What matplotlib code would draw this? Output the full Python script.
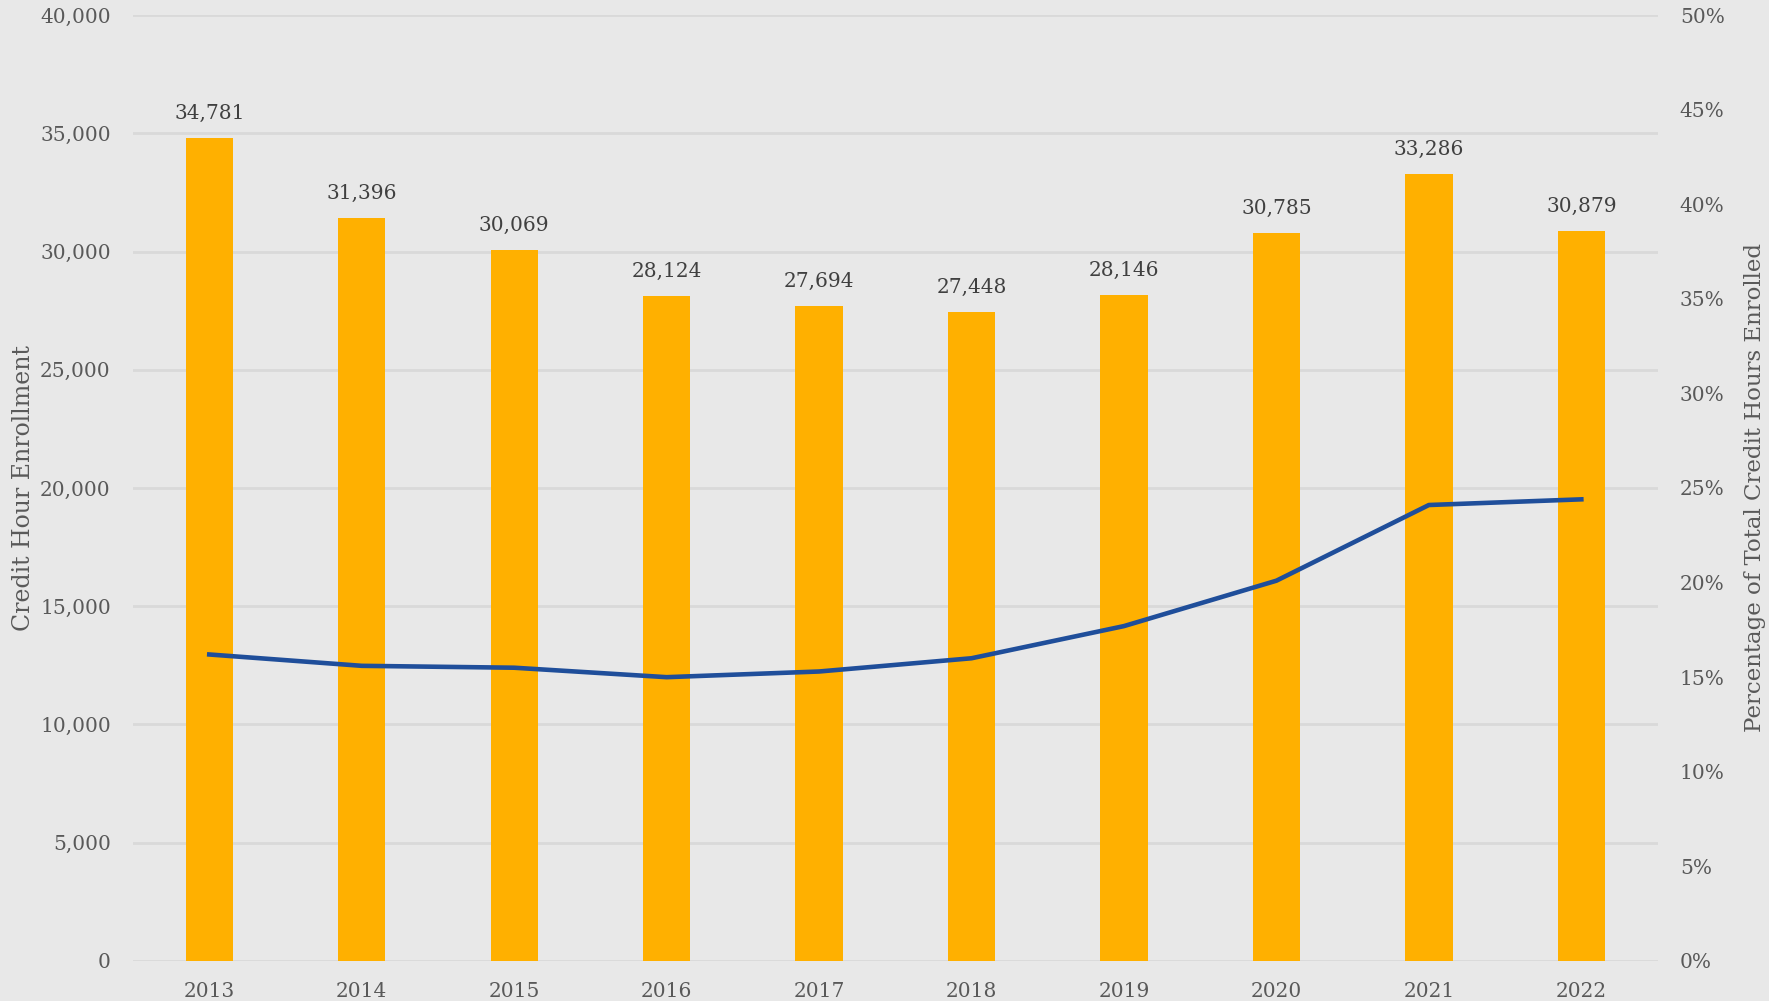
import matplotlib.pyplot as plt
from matplotlib.ticker import FuncFormatter

# data
years = ['2013', '2014', '2015', '2016', '2017', '2018', '2019', '2020', '2021', '2022']
credit_hours = [34781, 31396, 30069, 28124, 27694, 27448, 28146, 30785, 33286, 30879]
pct_of_total = [16.2, 15.6, 15.5, 15.0, 15.3, 16.0, 17.7, 20.1, 24.1, 24.4]

txt = '#595959'
plt.rcParams['font.family'] = ['DejaVu Serif']

fig = plt.figure(figsize=(17.69, 10.01), dpi=100)
fig.patch.set_facecolor('#e8e8e8')
ax = fig.add_axes([0.0752, 0.040, 0.8618, 0.945])
ax.set_facecolor('#e8e8e8')

x = range(len(years))
bars = ax.bar(x, credit_hours, width=0.31, color='#ffb000', zorder=2)
for xi, v in zip(x, credit_hours):
    ax.annotate(f'{v:,}', (xi, v), xytext=(0, 11), textcoords='offset points',
                ha='center', va='bottom', fontsize=14.5, color='#404040')

ax.set_xlim(-0.5, 9.5)
ax.set_ylim(0, 40000)
ax.set_yticks(range(0, 40001, 5000))
ax.yaxis.set_major_formatter(FuncFormatter(lambda v, p: f'{int(v):,}'))
ax.set_xticks(list(x))
ax.set_xticklabels(years)
ax.grid(axis='y', color='#d9d9d9', linewidth=2, zorder=0)
ax.tick_params(axis='y', length=0, pad=16, labelsize=14.5, labelcolor=txt)
ax.tick_params(axis='x', length=0, pad=15, labelsize=14.5, labelcolor=txt)
for s in ax.spines.values():
    s.set_visible(False)
ax.set_ylabel('Credit Hour Enrollment', fontsize=17, color=txt, labelpad=4)

ax2 = ax.twinx()
ax2.plot(list(x), pct_of_total, color='#1f4e9a', linewidth=3.3, zorder=3)
ax2.set_ylim(0, 50)
ax2.set_yticks(range(0, 51, 5))
ax2.yaxis.set_major_formatter(FuncFormatter(lambda v, p: f'{int(v)}%'))
ax2.tick_params(axis='y', length=0, pad=16, labelsize=14.5, labelcolor=txt)
for s in ax2.spines.values():
    s.set_visible(False)
ax2.set_ylabel('Percentage of Total Credit Hours Enrolled', fontsize=16.5, color=txt, labelpad=14)

fig.savefig('out.png', dpi=100, facecolor=fig.get_facecolor())
